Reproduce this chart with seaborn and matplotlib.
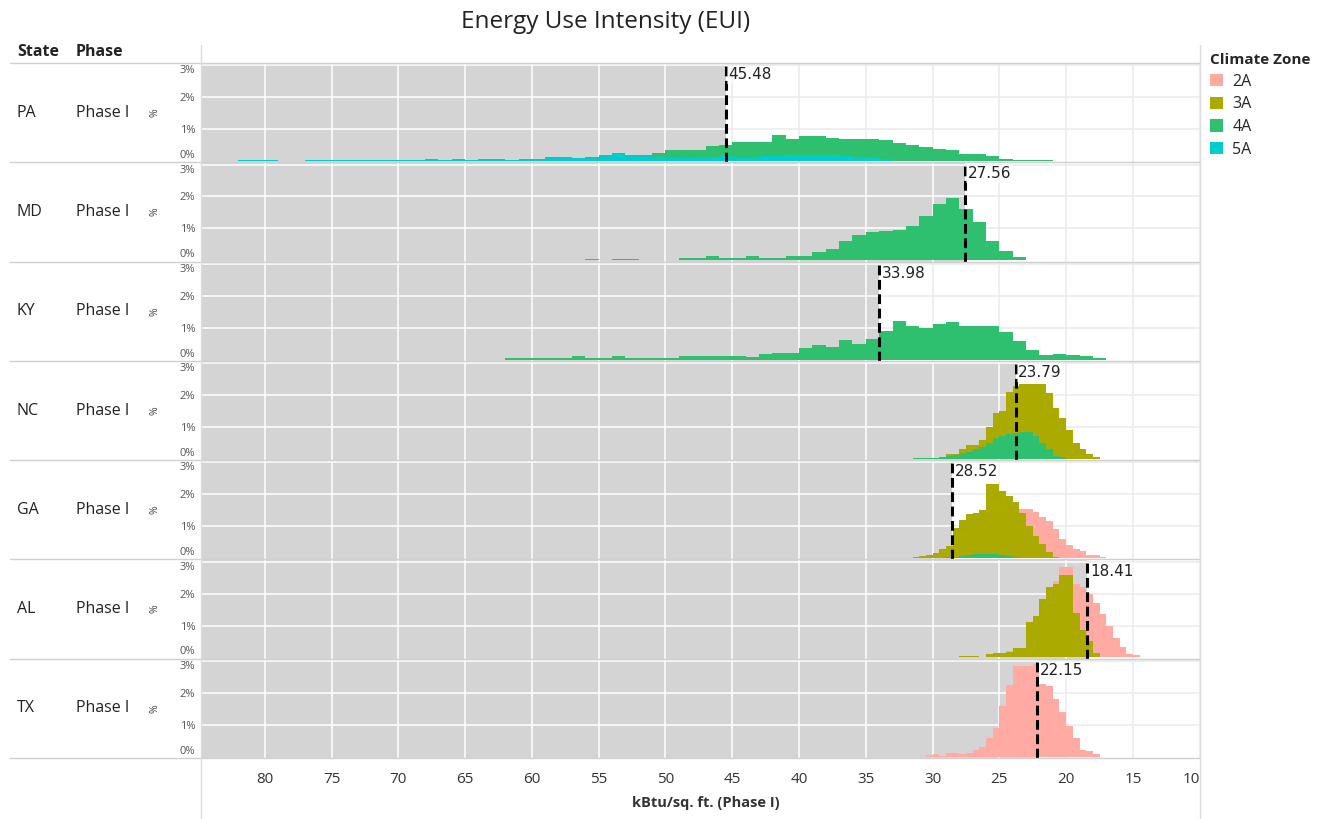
import numpy as np
import pandas as pd
import matplotlib
matplotlib.use("Agg")
import matplotlib.pyplot as plt
import seaborn as sns
from matplotlib.lines import Line2D
from matplotlib.patches import Patch

# ---------------- data ----------------
STATES = ["PA", "MD", "KY", "NC", "GA", "AL", "TX"]
PHASE = "Phase I"
ZONES = ["2A", "3A", "4A", "5A"]
ZONE_COLORS = ["#FFAAA2", "#AAAA00", "#2EBF6F", "#00CCCC"]
REF_VALUES = [45.48, 27.56, 33.98, 23.79, 28.52, 18.41, 22.15]
X_TICKS = [80, 75, 70, 65, 60, 55, 50, 45, 40, 35, 30, 25, 20, 15, 10]
Y_TICKS = [0, 1, 2, 3]
Y_TICK_LABELS = ["0%", "1%", "2%", "3%"]

# histogram series: upper EUI edge of first bin, bin width, share of buildings (%) from high to low EUI
PA_4A_TOP, PA_4A_W = 63, 1.0
PA_4A = [0.03, 0.03, 0.05, 0.05, 0.05, 0.06, 0.1, 0.12, 0.15, 0.15, 0.18, 0.2, 0.25, 0.34, 0.34,
         0.36, 0.46, 0.5, 0.6, 0.6, 0.6, 0.83, 0.7, 0.77, 0.77, 0.72, 0.7, 0.7, 0.7, 0.65, 0.55,
         0.5, 0.43, 0.37, 0.34, 0.22, 0.22, 0.15, 0.05, 0.03, 0.02, 0.02]
PA_5A_TOP, PA_5A_W = 82, 1.0
PA_5A = [0.03, 0.03, 0.03, 0, 0, 0.03, 0.03, 0.02, 0.03, 0.03, 0.03, 0.03, 0.03, 0.03, 0.05,
         0.02, 0.07, 0.02, 0.05, 0.05, 0.03, 0.05, 0.05, 0.12, 0.12, 0.08, 0.1, 0.2, 0.24, 0.2,
         0.15, 0.12, 0.12, 0.1, 0.12, 0.12, 0.15, 0.12, 0.13, 0.15, 0.15, 0.18, 0.2, 0.2, 0.18,
         0.15, 0.12, 0.1, 0.05]
MD_4A_TOP, MD_4A_W = 56, 1.0
MD_4A = [0.05, 0, 0.03, 0.05, 0, 0, 0, 0.06, 0.06, 0.12, 0.06, 0.06, 0.12, 0.06, 0.06, 0.12,
         0.12, 0.25, 0.35, 0.6, 0.78, 0.88, 0.91, 0.95, 1.06, 1.4, 1.75, 1.95, 1.6, 1.2, 0.6,
         0.3, 0.1]
KY_4A_TOP, KY_4A_W = 62, 1.0
KY_4A = [0.04, 0.04, 0.04, 0.04, 0.04, 0.1, 0.04, 0.04, 0.1, 0.04, 0.04, 0.04, 0.04, 0.1, 0.1,
         0.1, 0.1, 0.1, 0.08, 0.19, 0.22, 0.2, 0.35, 0.45, 0.4, 0.6, 0.5, 0.66, 0.9, 1.2, 1.05,
         1.0, 1.13, 1.18, 1.05, 1.05, 1.05, 0.85, 0.58, 0.3, 0.14, 0.17, 0.15, 0.1, 0.05]
NC_3A_TOP, NC_3A_W = 30.0, 0.5
NC_3A = [0.02, 0.05, 0.15, 0.15, 0.3, 0.42, 0.42, 0.6, 1.0, 1.43, 1.5, 2.1, 2.28, 2.35, 2.35,
         2.35, 2.35, 2.05, 1.6, 1.28, 0.9, 0.5, 0.3, 0.15, 0.05]
NC_4A_TOP, NC_4A_W = 31.5, 0.5
NC_4A = [0.02, 0.02, 0.02, 0.02, 0.05, 0.1, 0.12, 0.18, 0.22, 0.3, 0.38, 0.5, 0.65, 0.72, 0.78,
         0.8, 0.85, 0.85, 0.72, 0.5, 0.3, 0.08, 0.05]
GA_2A_TOP, GA_2A_W = 27.0, 0.5
GA_2A = [0.1, 0.3, 0.6, 1.0, 1.4, 1.7, 1.55, 1.55, 1.55, 1.45, 1.3, 1.15, 0.9, 0.6, 0.4, 0.3,
         0.22, 0.1, 0.1, 0.04]
GA_3A_TOP, GA_3A_W = 31.5, 0.5
GA_3A = [0.05, 0.07, 0.1, 0.15, 0.3, 0.38, 0.95, 1.2, 1.37, 1.42, 1.5, 2.32, 2.32, 2.1, 1.95,
         1.75, 1.4, 1.0, 0.7, 0.45, 0.2, 0.05]
GA_4A_TOP, GA_4A_W = 29.0, 0.5
GA_4A = [0.03, 0.05, 0.08, 0.1, 0.12, 0.12, 0.12, 0.12, 0.1, 0.08, 0.05]
AL_2A_TOP, AL_2A_W = 24.5, 0.5
AL_2A = [0.2, 0.28, 0.3, 0.6, 1.0, 1.5, 2.0, 2.4, 2.83, 2.83, 2.3, 2.2, 2.0, 1.7, 1.35, 1.0,
         0.6, 0.33, 0.1, 0.07, 0.02, 0.02]
AL_3A_TOP, AL_3A_W = 28.0, 0.5
AL_3A = [0.05, 0.05, 0.03, 0, 0.12, 0.14, 0.14, 0.18, 0.28, 0.3, 1.1, 1.3, 1.82, 2.2, 2.3, 2.57,
         2.57, 1.4, 0.85, 0.5, 0.15]
TX_2A_TOP, TX_2A_W = 30.5, 0.5
TX_2A = [0.05, 0.07, 0.03, 0.12, 0.12, 0.07, 0.12, 0.2, 0.3, 0.6, 0.9, 1.6, 2.25, 2.83, 2.83,
         2.85, 2.9, 2.29, 2.2, 1.8, 1.4, 0.95, 0.6, 0.22, 0.19, 0.09]

SERIES = {
    "PA": [("4A", PA_4A_TOP, PA_4A_W, PA_4A), ("5A", PA_5A_TOP, PA_5A_W, PA_5A)],
    "MD": [("4A", MD_4A_TOP, MD_4A_W, MD_4A)],
    "KY": [("4A", KY_4A_TOP, KY_4A_W, KY_4A)],
    "NC": [("3A", NC_3A_TOP, NC_3A_W, NC_3A), ("4A", NC_4A_TOP, NC_4A_W, NC_4A)],
    "GA": [("2A", GA_2A_TOP, GA_2A_W, GA_2A), ("3A", GA_3A_TOP, GA_3A_W, GA_3A),
           ("4A", GA_4A_TOP, GA_4A_W, GA_4A)],
    "AL": [("2A", AL_2A_TOP, AL_2A_W, AL_2A), ("3A", AL_3A_TOP, AL_3A_W, AL_3A)],
    "TX": [("2A", TX_2A_TOP, TX_2A_W, TX_2A)],
}

# ---------------- style ----------------
sns.set_theme(style="white")
plt.rcParams["font.family"] = ["Open Sans", "DejaVu Sans"]

W, H = 1325, 819
fig = plt.figure(figsize=(W / 100, H / 100), dpi=100)
color_of = dict(zip(ZONES, ZONE_COLORS))

XL, XR = 84.7, 9.98
YMIN, YMAX = -0.04, 3.07
PLOT_L, PLOT_R = 202, 1200
TOP0, BOT = 63, 758
ph = (BOT - TOP0) / len(STATES)
GRID_LIGHT = "#ebebeb"
SHADE = "#d4d4d4"

for i, state in enumerate(STATES):
    y_top = TOP0 + i * ph
    ax = fig.add_axes([PLOT_L / W, 1 - (y_top + ph) / H, (PLOT_R - PLOT_L) / W, ph / H])
    ref = REF_VALUES[i]
    ax.set_xlim(XL, XR)
    ax.set_ylim(YMIN, YMAX)
    ax.axvspan(XL, ref, color=SHADE, lw=0, zorder=0)
    for yv in Y_TICKS[1:]:
        ax.hlines(yv, XL, ref, color="white", lw=1.1, zorder=0.5)
        ax.hlines(yv, ref, XR, color=GRID_LIGHT, lw=1.1, zorder=0.5)
    for xv in X_TICKS:
        ax.axvline(xv, color="white" if xv > ref else GRID_LIGHT, lw=1.1, zorder=0.5)

    for zone in ZONES:
        for (z, top, width, vals) in SERIES[state]:
            if z != zone:
                continue
            vals = np.asarray(vals, dtype=float)
            edges = (top - width * np.arange(len(vals) + 1))[::-1]
            centers = (edges[:-1] + edges[1:]) / 2
            df = pd.DataFrame({"eui": centers, "pct": vals[::-1]})
            c = color_of[zone]
            sns.histplot(data=df, x="eui", weights="pct", bins=[float(e) for e in edges],
                         element="step", fill=True, color=c, facecolor=c, edgecolor=c,
                         alpha=1.0, linewidth=0, ax=ax, zorder=2)

    ax.axvline(ref, color="black", lw=2.2, ls=(0, (3.2, 1.5)), zorder=4)
    ax.annotate(f"{ref:.2f}", xy=(ref, 1), xycoords=("data", "axes fraction"),
                xytext=(2, -3), textcoords="offset points", ha="left", va="top",
                fontsize=11, color="#222222", family=["DejaVu Sans"], zorder=5,
                bbox=dict(boxstyle="square,pad=0.1", fc="white", ec="none", alpha=0.55))

    ax.set_xlim(XL, XR)
    ax.set_ylim(YMIN, YMAX)
    ax.set_ylabel("")
    ax.set_xlabel("")
    ax.set_yticks(Y_TICKS)
    ax.set_yticklabels(Y_TICK_LABELS)
    ax.tick_params(axis="y", length=0, labelsize=8, colors="#555555", pad=5)
    labs = ax.get_yticklabels()
    labs[0].set_va("bottom")
    labs[-1].set_va("top")
    ax.set_xticks(X_TICKS)
    if i == len(STATES) - 1:
        ax.set_xticklabels([str(t) for t in X_TICKS])
        ax.tick_params(axis="x", length=0, labelsize=11, colors="#333333", pad=10)
        ax.get_xticklabels()[-1].set_ha("right")
    else:
        ax.set_xticklabels([])
        ax.tick_params(axis="x", length=0)
    for s in ax.spines.values():
        s.set_visible(False)

    yc = 1 - (y_top + ph / 2) / H
    fig.text(17 / W, yc, state, fontsize=11.5, va="center", ha="left", color="#222222")
    fig.text(76 / W, yc, PHASE, fontsize=11.5, va="center", ha="left", color="#222222")
    fig.text(155 / W, yc, "%", fontsize=7.5, rotation=90, va="center", ha="center", color="#444444")

# separators & borders
for k in range(len(STATES) + 1):
    yy = 1 - (TOP0 + k * ph) / H
    fig.add_artist(Line2D([10 / W, PLOT_R / W], [yy, yy], color="#d0d0d0", lw=1))
for xx in (PLOT_L - 0.5, PLOT_R):
    fig.add_artist(Line2D([xx / W, xx / W], [0, 1 - 45 / H], color="#dcdcdc", lw=1))

# headers, title, axis label
fig.text(17 / W, 1 - 52 / H, "State", fontsize=11.5, fontweight="bold", va="center", color="#222222")
fig.text(76 / W, 1 - 52 / H, "Phase", fontsize=11.5, fontweight="bold", va="center", color="#222222")
fig.text(606 / W, 1 - 22 / H, "Energy Use Intensity (EUI)", fontsize=17.5, ha="center",
         va="center", color="#222222")
fig.text(706 / W, 1 - 803 / H, "kBtu/sq. ft. (Phase I)", fontsize=10.5, fontweight="bold",
         ha="center", va="center", color="#333333")

handles = [Patch(facecolor=c, edgecolor="none", label=z) for z, c in zip(ZONES, ZONE_COLORS)]
leg = fig.legend(handles=handles, loc="upper left", bbox_to_anchor=(1210 / W, 1 - 53 / H),
                 frameon=False, title="Climate Zone", fontsize=11.5, handlelength=0.8,
                 handleheight=0.8, handletextpad=0.6, labelspacing=0.42, borderaxespad=0,
                 borderpad=0, alignment="left",
                 title_fontproperties={"weight": "bold", "size": 11})

fig.savefig("out.png", dpi=100)
